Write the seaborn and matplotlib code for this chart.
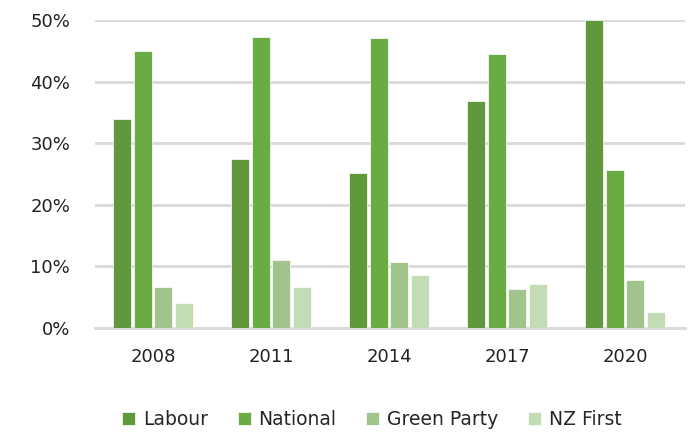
import matplotlib
matplotlib.use("Agg")
import matplotlib.pyplot as plt
import seaborn as sns
import pandas as pd
from matplotlib.ticker import FuncFormatter

years = ["2008", "2011", "2014", "2017", "2020"]
parties = ["Labour", "National", "Green Party", "NZ First"]
labour = [33.99, 27.48, 25.13, 36.89, 50.01]
national = [44.93, 47.31, 47.04, 44.45, 25.58]
green = [6.72, 11.06, 10.70, 6.27, 7.86]
nzfirst = [4.07, 6.59, 8.66, 7.20, 2.60]
colors = ["#5f993b", "#6bab44", "#a0c48b", "#c4dcb6"]

rows = []
for p, vals in zip(parties, [labour, national, green, nzfirst]):
    for y, v in zip(years, vals):
        rows.append({"Year": y, "Party": p, "Share": v})
df = pd.DataFrame(rows)

sns.set_style("white")
plt.rcParams["font.family"] = ["DejaVu Sans"]

fig = plt.figure(figsize=(6.95, 4.34), dpi=100)
ax = fig.add_axes([0.137, 0.244, 0.849, 0.710])
sns.barplot(data=df, x="Year", y="Share", hue="Party", hue_order=parties,
            palette=colors, saturation=1, width=0.7, gap=0.12, ax=ax, legend=True,
            edgecolor="white", linewidth=0.5, zorder=3)
ax.set_ylim(0, 50)
ax.set_xlim(-0.49, 4.51)
ax.set_yticks([0, 10, 20, 30, 40, 50])
ax.yaxis.set_major_formatter(FuncFormatter(lambda v, _: f"{int(v)}%"))
ax.grid(axis="y", color="#d9d9d9", linewidth=2, zorder=0)
ax.set_axisbelow(True)
for s in ["top", "right", "left"]:
    ax.spines[s].set_visible(False)
ax.spines["bottom"].set_color("#d9d9d9")
ax.spines["bottom"].set_linewidth(2)
ax.set_xlabel("")
ax.set_ylabel("")
ax.tick_params(axis="both", length=0, labelsize=13, colors="#222222")
ax.tick_params(axis="y", pad=18)
ax.tick_params(axis="x", pad=14)

handles, labels = ax.get_legend_handles_labels()
ax.legend_.remove()
fig.legend(handles, labels, loc="center", bbox_to_anchor=(0.535, 0.033), ncol=4,
           frameon=False, fontsize=13.5, handlelength=0.7, handleheight=0.7,
           handletextpad=0.4, columnspacing=1.6)

fig.savefig("out.png", dpi=100, facecolor="white")
